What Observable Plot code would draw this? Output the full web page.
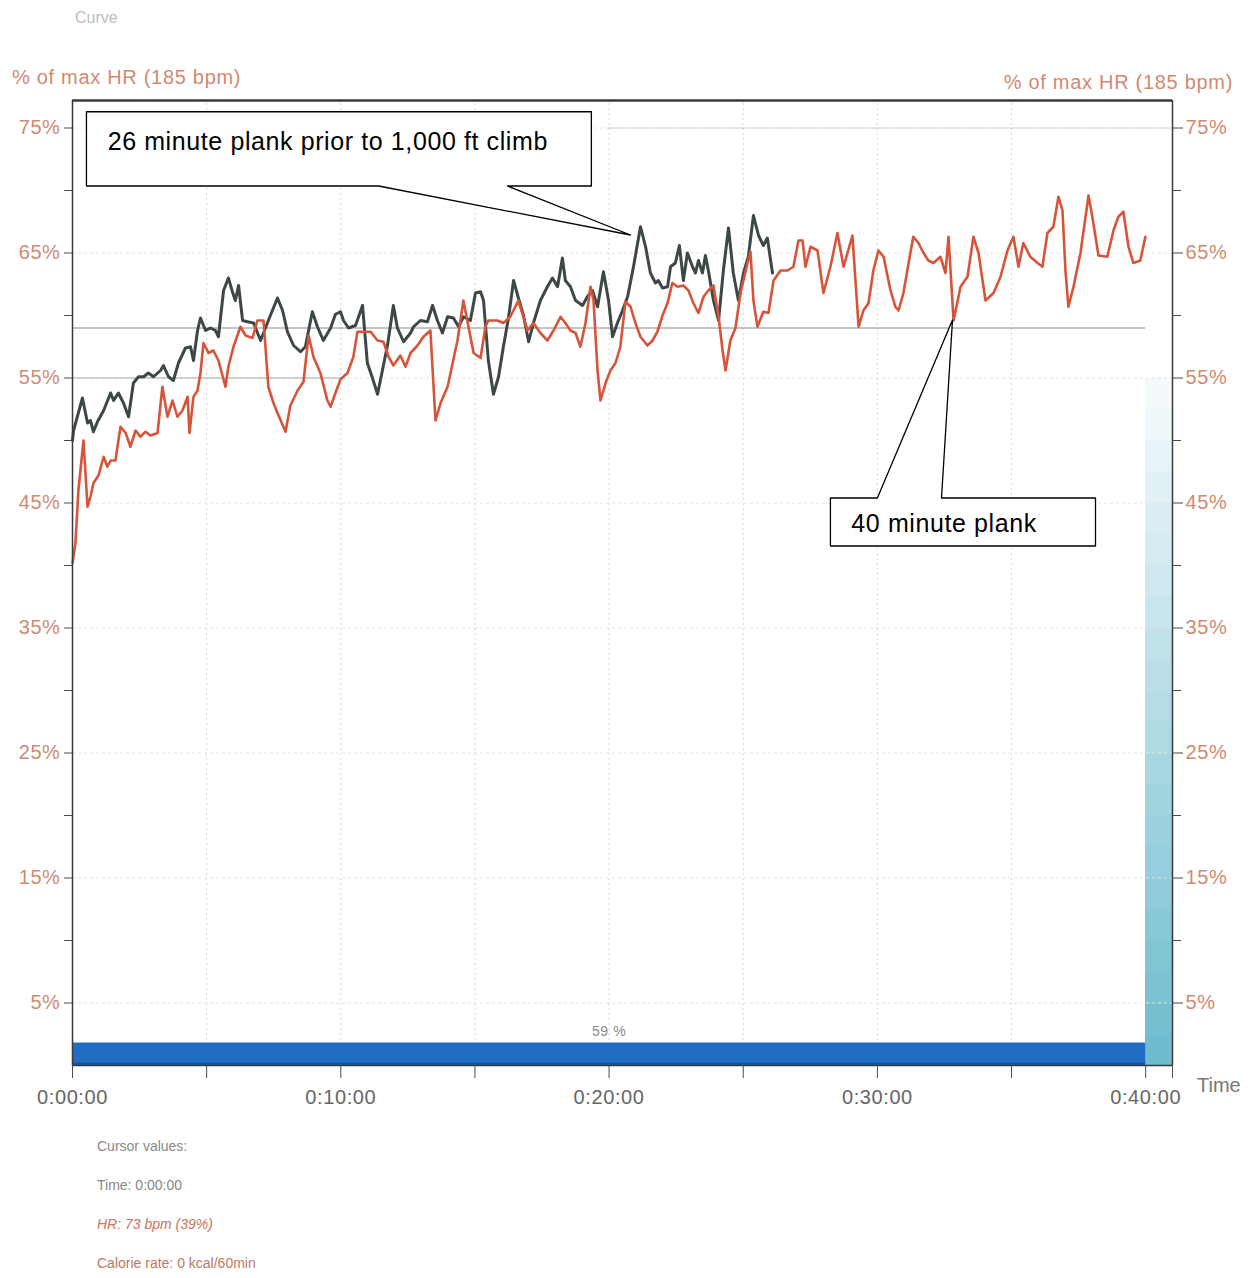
<!DOCTYPE html>
<html><head><meta charset="utf-8">
<script src="https://cdn.jsdelivr.net/npm/d3@7"></script>
<script src="https://cdn.jsdelivr.net/npm/@observablehq/plot@0.6"></script>
<style>
body{margin:0;background:#fff;font-family:"Liberation Sans",Arial,sans-serif;}
#wrap{position:relative;width:1253px;height:1278px;overflow:hidden;background:#fff}
.t{position:absolute;white-space:nowrap;line-height:1.2}
#chart{position:absolute;left:0;top:90px}
#chart svg text{letter-spacing:0.6px}
</style></head><body>
<div id="wrap">
  <div class="t" style="left:75px;top:8px;font-size:16px;color:#bdbdbd">Curve</div>
  <div class="t" style="left:12px;top:65px;font-size:20px;color:#d08a72;letter-spacing:0.7px">% of max HR (185 bpm)</div>
  <div class="t" style="right:20px;top:70px;font-size:20px;color:#d08a72;letter-spacing:0.7px">% of max HR (185 bpm)</div>
  <div id="chart"></div>
  <div class="t" style="left:1197px;top:1073px;font-size:20px;color:#777">Time</div>
  <div class="t" style="left:97px;top:1138px;font-size:14px;color:#888">Cursor values:</div>
  <div class="t" style="left:97px;top:1177px;font-size:14px;color:#888">Time: 0:00:00</div>
  <div class="t" style="left:97px;top:1216px;font-size:14px;color:#c8735c;font-style:italic">HR: 73 bpm (39%)</div>
  <div class="t" style="left:97px;top:1255px;font-size:14px;color:#c07862">Calorie rate: 0 kcal/60min</div>
</div>
<script>
// ---- data (minutes, % of max HR) ----
const grayHR = [[0.00,50.0],[0.04,50.8],[0.37,53.4],[0.56,51.4],[0.67,51.6],[0.78,50.7],[0.93,51.5],[1.16,52.4],[1.42,53.8],[1.53,53.2],[1.71,53.8],[1.90,53.0],[2.09,51.9],[2.27,54.6],[2.46,55.1],[2.65,55.1],[2.83,55.4],[3.02,55.1],[3.28,55.6],[3.39,56.0],[3.58,55.1],[3.76,54.8],[3.95,56.2],[4.21,57.4],[4.40,57.5],[4.51,56.4],[4.66,58.8],[4.77,59.8],[4.96,58.8],[5.14,59.0],[5.33,58.8],[5.44,58.3],[5.63,62.0],[5.81,63.0],[5.96,61.9],[6.07,61.2],[6.19,62.4],[6.34,59.6],[6.52,59.5],[6.75,59.4],[7.01,58.0],[7.30,59.6],[7.64,61.4],[7.83,60.4],[8.01,58.7],[8.24,57.6],[8.50,57.1],[8.68,57.5],[8.94,60.3],[9.13,59.1],[9.35,58.0],[9.62,59.0],[9.80,60.1],[9.99,60.3],[10.10,59.6],[10.29,59.0],[10.55,59.2],[10.81,60.8],[10.99,56.2],[11.18,55.0],[11.37,53.7],[11.55,55.6],[11.74,57.6],[11.96,60.8],[12.11,59.0],[12.34,57.9],[12.60,58.6],[12.71,59.1],[12.97,59.6],[13.23,59.5],[13.42,60.8],[13.60,59.6],[13.79,58.6],[13.98,59.9],[14.20,59.8],[14.39,59.1],[14.57,59.9],[14.83,59.6],[15.02,61.8],[15.21,61.9],[15.32,61.2],[15.50,56.4],[15.69,53.7],[15.88,55.1],[16.06,57.5],[16.25,59.8],[16.44,62.8],[16.62,61.4],[16.81,60.0],[17.00,57.9],[17.18,59.4],[17.44,61.2],[17.70,62.3],[17.89,63.0],[18.08,62.3],[18.26,64.6],[18.37,62.8],[18.56,62.3],[18.75,61.2],[19.01,60.8],[19.19,61.5],[19.38,62.0],[19.57,60.7],[19.79,63.5],[19.98,61.2],[20.13,58.3],[20.31,59.4],[20.50,60.4],[20.69,61.5],[20.91,63.9],[21.17,67.1],[21.36,65.5],[21.54,63.4],[21.73,62.6],[21.84,62.8],[21.99,62.2],[22.18,62.3],[22.29,63.9],[22.47,64.2],[22.62,65.6],[22.77,62.8],[22.92,65.0],[23.11,63.9],[23.22,63.4],[23.33,64.4],[23.48,63.4],[23.59,64.8],[23.70,63.6],[23.89,61.2],[24.08,59.6],[24.26,63.6],[24.45,67.0],[24.63,63.4],[24.82,61.2],[25.01,63.4],[25.19,64.7],[25.38,68.0],[25.57,66.4],[25.75,65.6],[25.90,66.2],[26.09,63.4]];

const redHR = [[0.00,40.2],[0.11,41.8],[0.22,46.0],[0.41,50.0],[0.56,44.7],[0.67,45.5],[0.78,46.6],[0.97,47.2],[1.16,48.7],[1.30,47.9],[1.42,48.4],[1.60,48.4],[1.79,51.1],[1.98,50.6],[2.16,49.5],[2.35,50.8],[2.53,50.3],[2.72,50.7],[2.91,50.4],[3.17,50.6],[3.35,54.3],[3.54,51.9],[3.73,53.2],[3.91,51.9],[4.10,52.4],[4.29,53.5],[4.36,50.6],[4.51,53.5],[4.66,54.0],[4.77,55.4],[4.88,57.8],[5.07,57.0],[5.25,57.2],[5.44,56.4],[5.70,54.3],[5.81,55.9],[6.00,57.5],[6.26,59.1],[6.45,58.4],[6.71,58.2],[6.89,59.6],[7.12,59.6],[7.30,54.3],[7.49,53.0],[7.68,52.0],[7.94,50.7],[8.12,52.8],[8.39,54.0],[8.61,54.7],[8.80,58.4],[8.98,56.7],[9.24,55.4],[9.50,53.2],[9.62,52.7],[9.80,53.8],[9.99,54.9],[10.25,55.4],[10.47,56.7],[10.62,58.7],[10.85,58.7],[11.11,58.7],[11.37,58.0],[11.59,57.9],[11.78,56.7],[11.96,56.0],[12.22,56.8],[12.41,55.9],[12.60,57.0],[12.86,57.6],[13.08,58.3],[13.34,58.8],[13.45,54.6],[13.53,51.6],[13.72,53.0],[13.98,54.3],[14.35,58.0],[14.57,61.2],[14.76,59.1],[14.95,57.0],[15.21,56.6],[15.39,59.1],[15.50,59.6],[15.84,59.6],[16.06,59.4],[16.32,59.9],[16.62,61.2],[16.96,58.8],[17.18,59.4],[17.44,58.6],[17.70,58.0],[17.93,58.8],[18.19,59.9],[18.37,59.4],[18.56,58.8],[18.75,58.6],[18.93,57.5],[19.12,59.4],[19.31,62.3],[19.42,61.2],[19.57,55.6],[19.68,53.2],[19.87,54.6],[20.05,55.6],[20.24,56.2],[20.42,57.5],[20.61,61.1],[20.80,60.7],[20.98,59.4],[21.17,58.3],[21.43,57.6],[21.62,58.0],[21.80,58.7],[21.99,60.0],[22.18,61.0],[22.36,62.6],[22.55,62.3],[22.77,62.4],[22.96,62.0],[23.14,61.0],[23.33,60.2],[23.52,61.5],[23.70,62.0],[23.89,62.4],[24.08,59.9],[24.23,57.2],[24.34,55.6],[24.52,58.0],[24.71,59.0],[24.90,61.8],[25.16,64.2],[25.27,65.1],[25.38,61.2],[25.53,59.1],[25.75,60.3],[25.94,60.2],[26.13,62.8],[26.39,63.6],[26.65,63.6],[26.87,63.9],[27.06,66.0],[27.21,66.0],[27.32,63.9],[27.51,65.5],[27.77,65.2],[27.99,61.8],[28.25,63.9],[28.51,66.6],[28.74,63.9],[29.07,66.4],[29.30,59.1],[29.48,60.4],[29.67,61.0],[29.85,63.6],[30.04,65.2],[30.23,64.7],[30.49,62.0],[30.67,60.7],[30.79,60.4],[30.97,61.8],[31.23,65.0],[31.34,66.3],[31.53,65.8],[31.72,65.0],[31.90,64.4],[32.09,64.2],[32.35,64.7],[32.54,63.4],[32.65,66.3],[32.84,59.6],[33.10,62.3],[33.36,63.1],[33.58,66.3],[33.77,65.0],[34.03,61.2],[34.33,61.8],[34.59,63.1],[34.85,65.2],[35.07,66.3],[35.26,63.9],[35.44,65.8],[35.70,64.7],[35.97,64.2],[36.15,63.9],[36.34,66.6],[36.56,67.1],[36.75,69.5],[36.90,68.4],[37.01,63.6],[37.12,60.7],[37.31,62.3],[37.57,65.0],[37.87,69.6],[38.05,67.4],[38.24,64.8],[38.57,64.7],[38.80,66.8],[38.98,67.9],[39.17,68.3],[39.36,65.5],[39.54,64.2],[39.80,64.4],[39.99,66.3]];

const pctTicks = [5, 15, 25, 35, 45, 55, 65, 75];
const pctMinorTicks = [10, 20, 30, 40, 50, 60, 70];
const timeTicks = [0, 10, 20, 30, 40];
const timeLabels = ["0:00:00", "0:10:00", "0:20:00", "0:30:00", "0:40:00"];
const timeMinorTicks = [5, 15, 25, 35, 41];
const gridMinutes = [5, 10, 15, 20, 25, 30, 35];
const averagePct = 59;
const sessionMinutes = 40;
const averageBar = [{start: 0, end: 40, label: "59 %"}];
const zoneStripLevels = [0, 2.5, 5, 7.5, 10, 12.5, 15, 17.5, 20, 22.5, 25, 27.5, 30, 32.5, 35, 37.5, 40, 42.5, 45, 47.5, 50, 52.5];

// callouts (minutes, %)
const callout1Text = "26 minute plank prior to 1,000 ft climb";
const callout1Shape = [[0.52,76.3],[19.34,76.3],[19.34,70.36],[16.21,70.36],[20.80,66.44],[11.41,70.36],[0.52,70.36],[0.52,76.3]];
const callout1Anchor = [1.31, 73.9];
const callout2Text = "40 minute plank";
const callout2Shape = [[28.25,45.4],[30.0,45.4],[32.8,59.64],[32.39,45.4],[38.13,45.4],[38.13,41.56],[28.25,41.56],[28.25,45.4]];
const callout2Anchor = [29.03, 43.3];

const labelColor = "#d08a72";
const axisColor = "#4a4a4a";

const plot = Plot.plot({
  width: 1253,
  height: 1030,
  marginTop: 10,
  marginBottom: 55,
  marginLeft: 72,
  marginRight: 81,
  style: {fontFamily: "'Liberation Sans', Arial, sans-serif", fontSize: "20px", background: "transparent", overflow: "visible"},
  x: {domain: [0, 41]},
  y: {domain: [0, 77.2]},
  color: {type: "linear", domain: [0, 52.5], range: ["#6fbccf", "#f4fafc"]},
  marks: [
    Plot.rect(zoneStripLevels, {x1: sessionMinutes, x2: 41, y1: d => d, y2: d => d + 2.5, fill: d => d, shapeRendering: "crispEdges"}),
    Plot.ruleX(gridMinutes, {y1: 0, y2: 77.2, stroke: "#d6d6d6", strokeDasharray: "2,3", strokeWidth: 1}),
    Plot.ruleY(pctTicks, {x1: 0, x2: 41, stroke: "#e4e4e4", strokeDasharray: "3,3", strokeWidth: 1}),
    Plot.ruleY([55], {x1: 0, x2: 10, stroke: "#a8a8a8", strokeWidth: 1}),
    Plot.ruleY([75], {x1: 20, x2: 41, stroke: "#c8c8c8", strokeDasharray: "4,2", strokeWidth: 1}),
    Plot.ruleY([averagePct], {x1: 0, x2: sessionMinutes, stroke: "#8a8a8a", strokeWidth: 1.2}),
    Plot.rect(averageBar, {x1: "start", x2: "end", y1: 0, y2: 1.8, fill: "#1f6ec4"}),
    Plot.ruleY([0.15], {x1: 0, x2: sessionMinutes, stroke: "#16519a", strokeWidth: 2}),
    Plot.text(averageBar, {x: d => (d.start + d.end) / 2, y: 2.75, text: "label", fill: "#8a8a8a", fontSize: 14}),
    Plot.line(grayHR, {x: d => d[0], y: d => d[1], stroke: "#3e4747", strokeWidth: 3, strokeLinejoin: "round"}),
    Plot.line(redHR, {x: d => d[0], y: d => d[1], stroke: "#d6553a", strokeWidth: 2.6, strokeLinejoin: "round"}),
    Plot.ruleY([77.2], {x1: 0, x2: 41, stroke: "#3a3a3a", strokeWidth: 2.5}),
    Plot.ruleY([0], {x1: 0, x2: 41, stroke: "#3a3a3a", strokeWidth: 1.5}),
    Plot.ruleX([0, 41], {y1: 0, y2: 77.2, stroke: "#3a3a3a", strokeWidth: 1.5}),
    Plot.axisY(pctTicks, {anchor: "left", tickSize: 8, tickPadding: 4, tickFormat: d => d + "%", stroke: axisColor, fill: labelColor, fontSize: 20, label: null}),
    Plot.axisY(pctMinorTicks, {anchor: "left", tickSize: 8, tickFormat: () => "", stroke: axisColor, label: null}),
    Plot.axisY(pctTicks, {anchor: "right", tickSize: 10, tickPadding: 3, tickFormat: d => d + "%", stroke: axisColor, fill: labelColor, fontSize: 20, label: null}),
    Plot.axisY(pctMinorTicks, {anchor: "right", tickSize: 8, tickFormat: () => "", stroke: axisColor, label: null}),
    Plot.axisX(timeTicks, {anchor: "bottom", tickSize: 13, tickPadding: 11, tickFormat: (d, i) => timeLabels[i], stroke: axisColor, fill: "#666", fontSize: 20, label: null}),
    Plot.axisX(timeMinorTicks, {anchor: "bottom", tickSize: 13, tickFormat: () => "", stroke: axisColor, label: null}),
    Plot.line(callout1Shape, {x: d => d[0], y: d => d[1], stroke: "#000", strokeWidth: 1.3, fill: "#fff", curve: "linear"}),
    Plot.text([callout1Anchor], {x: d => d[0], y: d => d[1], text: () => callout1Text, textAnchor: "start", fill: "#000", fontSize: 25}),
    Plot.line(callout2Shape, {x: d => d[0], y: d => d[1], stroke: "#000", strokeWidth: 1.3, fill: "#fff", curve: "linear"}),
    Plot.text([callout2Anchor], {x: d => d[0], y: d => d[1], text: () => callout2Text, textAnchor: "start", fill: "#000", fontSize: 25})
  ]
});
document.getElementById("chart").appendChild(plot);
</script>
</body></html>
